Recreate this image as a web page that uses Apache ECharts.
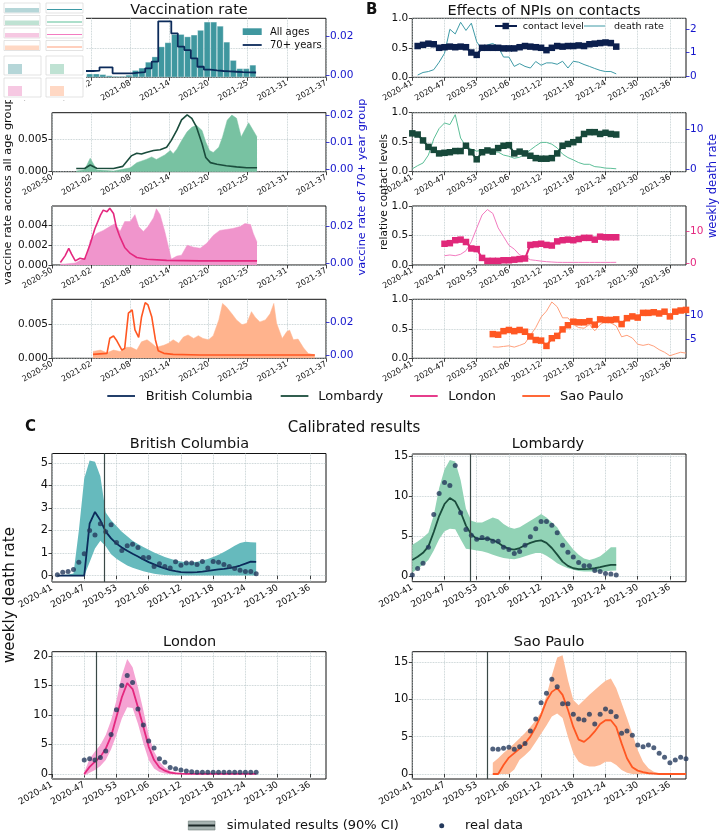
<!DOCTYPE html>
<html>
<head>
<meta charset="utf-8">
<script src="https://cdn.jsdelivr.net/npm/echarts@6/dist/echarts.min.js"></script>
<style>
html, body { margin: 0; padding: 0; background: #fff; }
#chart { width: 719px; height: 833px; }
</style>
</head>
<body>
<div id="chart"></div>
<script>
// tick labels
var weekTicks = [0, 6, 12, 18, 24, 30, 36, 42, 48];
var weekLabels = ['2020-41', '2020-47', '2020-53', '2021-06', '2021-12', '2021-18', '2021-24', '2021-30', '2021-36'];
var dayTicks = [0, 42, 84, 126, 168, 210, 252, 294];
var dayLabels = ['2020-50', '2021-02', '2021-08', '2021-14', '2021-20', '2021-25', '2021-31', '2021-37'];

var regions = ['British Columbia', 'Lombardy', 'London', 'Sao Paulo'];

// A: vaccination rate (day index, 0 = 2020-50)
var bcVacBins = [30, 37, 44, 51, 58, 65, 72, 79, 86, 93, 100, 107, 114, 121, 128, 135, 142, 149, 156, 163, 170, 177, 184, 191, 198, 205, 212];
var bcVacAll = [0.0004, 0.0006, 0.0006, 0.0005, 0.0003, 0.0002, 0.0002, 0.0004, 0.0012, 0.0016, 0.0026, 0.0035, 0.0052, 0.0059, 0.0073, 0.0073, 0.0069, 0.0072, 0.0080, 0.0094, 0.0094, 0.0087, 0.0060, 0.0029, 0.0015, 0.0015, 0.0021];
var bcVac70 = [0.0021, 0.0021, 0.0023, 0.0040, 0.0040, 0.0009, 0.0008, 0.0009, 0.0012, 0.0015, 0.0035, 0.0070, 0.0280, 0.0280, 0.0217, 0.0148, 0.0130, 0.0087, 0.0043, 0.0028, 0.0024, 0.0021, 0.0019, 0.0017, 0.0015, 0.0014, 0.0013];

var lomAllDays = [26, 35, 41, 48, 66, 84, 91, 101, 107, 112, 121, 127, 130, 134, 139, 145, 150, 155, 161, 165, 169, 173, 179, 183, 188, 193, 198, 203, 205, 211, 220];
var lomAll = [0.0001, 0.0003, 0.0021, 0.0003, 0.0001, 0.0006, 0.0014, 0.0019, 0.0023, 0.0019, 0.0026, 0.0033, 0.0028, 0.0035, 0.0048, 0.0062, 0.0069, 0.0072, 0.0064, 0.0046, 0.0033, 0.0030, 0.0038, 0.0054, 0.0080, 0.0088, 0.0083, 0.0054, 0.0051, 0.0076, 0.0054];
var lom70Days = [26, 35, 41, 48, 66, 76, 85, 91, 96, 101, 109, 116, 123, 128, 134, 139, 145, 150, 155, 161, 165, 170, 177, 187, 198, 209, 220];
var lom70 = [0.0003, 0.0003, 0.0016, 0.0004, 0.0003, 0.0011, 0.0050, 0.0060, 0.0057, 0.0063, 0.0070, 0.0073, 0.0082, 0.0108, 0.0146, 0.0184, 0.0203, 0.0190, 0.0158, 0.0095, 0.0044, 0.0025, 0.0019, 0.0013, 0.0009, 0.0006, 0.0006];

var lonAllDays = [9, 14, 25, 37, 41, 48, 55, 62, 68, 73, 78, 84, 89, 93, 98, 103, 109, 112, 116, 121, 125, 128, 134, 139, 145, 152, 159, 166, 173, 180, 187, 194, 202, 207, 213, 216, 220];
var lonAll = [0.0001, 0.0001, 0.0002, 0.0008, 0.0025, 0.0032, 0.0035, 0.0039, 0.0042, 0.0034, 0.0044, 0.0044, 0.0051, 0.0039, 0.0034, 0.0039, 0.0048, 0.0057, 0.0051, 0.0034, 0.0018, 0.0006, 0.0009, 0.0010, 0.0020, 0.0018, 0.0017, 0.0022, 0.0030, 0.0035, 0.0036, 0.0037, 0.0039, 0.0042, 0.0041, 0.0032, 0.0023];
var lon70Days = [9, 14, 18, 21, 25, 30, 35, 41, 46, 52, 55, 59, 62, 66, 69, 73, 78, 84, 91, 102, 123, 159, 220];
var lon70 = [0.0004, 0.0040, 0.0080, 0.0049, 0.0013, 0.0027, 0.0022, 0.0104, 0.0185, 0.0258, 0.0285, 0.0276, 0.0295, 0.0267, 0.0195, 0.0140, 0.0085, 0.0053, 0.0031, 0.0022, 0.0016, 0.0013, 0.0013];

var spAllDays = [44, 52, 59, 66, 73, 80, 85, 91, 96, 102, 107, 112, 120, 125, 130, 136, 141, 146, 152, 157, 162, 168, 173, 179, 183, 187, 193, 198, 204, 209, 214, 218, 223, 229, 234, 238, 241, 247, 252, 255, 259, 264, 270, 275, 282];
var spAll = [0.0010, 0.0012, 0.0008, 0.0012, 0.0010, 0.0016, 0.0016, 0.0012, 0.0024, 0.0027, 0.0022, 0.0016, 0.0019, 0.0022, 0.0027, 0.0022, 0.0031, 0.0034, 0.0029, 0.0033, 0.0029, 0.0027, 0.0033, 0.0056, 0.0080, 0.0075, 0.0065, 0.0056, 0.0049, 0.0051, 0.0068, 0.0060, 0.0053, 0.0056, 0.0065, 0.0080, 0.0051, 0.0029, 0.0039, 0.0041, 0.0027, 0.0028, 0.0015, 0.0007, 0.0005];
var sp70Days = [44, 59, 62, 66, 69, 75, 78, 82, 86, 89, 93, 96, 100, 103, 107, 111, 114, 120, 130, 159, 282];
var sp70 = [0.0008, 0.0014, 0.0105, 0.0119, 0.0095, 0.0034, 0.0044, 0.0257, 0.0277, 0.0156, 0.0111, 0.0232, 0.0321, 0.0307, 0.0236, 0.0095, 0.0030, 0.0014, 0.0008, 0.0004, 0.0004];

// B + C: weekly series (week index, 0 = 2020-41), first week per region
var firstWeek = [1, 0, 6, 15];
var vaccStartWeek = [9.73, 10.86, 8.25, 14.0];

var bcContact = [0.53, 0.55, 0.57, 0.56, 0.50, 0.51, 0.52, 0.51, 0.52, 0.51, 0.42, 0.38, 0.50, 0.50, 0.50, 0.50, 0.49, 0.49, 0.49, 0.51, 0.53, 0.52, 0.51, 0.50, 0.46, 0.50, 0.53, 0.52, 0.53, 0.53, 0.54, 0.53, 0.56, 0.57, 0.58, 0.59, 0.58, 0.52];
var lomContact = [0.65, 0.63, 0.53, 0.42, 0.37, 0.31, 0.32, 0.33, 0.35, 0.35, 0.44, 0.33, 0.21, 0.33, 0.36, 0.34, 0.40, 0.44, 0.45, 0.31, 0.34, 0.31, 0.27, 0.23, 0.22, 0.22, 0.23, 0.31, 0.44, 0.47, 0.50, 0.54, 0.64, 0.67, 0.67, 0.64, 0.66, 0.64, 0.63];
var lonContact = [0.36, 0.37, 0.42, 0.43, 0.39, 0.28, 0.27, 0.12, 0.07, 0.07, 0.07, 0.08, 0.08, 0.09, 0.10, 0.11, 0.34, 0.35, 0.36, 0.34, 0.33, 0.40, 0.42, 0.43, 0.42, 0.44, 0.46, 0.46, 0.43, 0.48, 0.47, 0.47, 0.47];
var spContact = [0.41, 0.40, 0.46, 0.48, 0.46, 0.48, 0.45, 0.37, 0.31, 0.30, 0.21, 0.34, 0.38, 0.49, 0.56, 0.62, 0.61, 0.61, 0.63, 0.57, 0.66, 0.65, 0.65, 0.66, 0.58, 0.68, 0.71, 0.69, 0.77, 0.77, 0.78, 0.76, 0.79, 0.71, 0.79, 0.81, 0.82];

// real weekly death rate
var bcDeath = [0.04, 0.15, 0.19, 0.27, 0.59, 0.97, 2.0, 1.8, 2.3, 1.95, 2.26, 1.47, 1.12, 1.33, 1.39, 1.25, 0.81, 0.81, 0.41, 0.53, 0.41, 0.34, 0.62, 0.46, 0.56, 0.56, 0.50, 0.63, 0.34, 0.63, 0.59, 0.49, 0.41, 0.32, 0.24, 0.19, 0.19, 0.09];
var lomDeath = [0.13, 0.93, 1.6, 3.6, 7.7, 10.3, 11.7, 11.3, 13.8, 7.9, 5.8, 5.1, 4.6, 4.8, 4.66, 4.36, 4.36, 3.6, 3.3, 2.8, 3.05, 3.85, 4.9, 5.9, 6.8, 6.8, 6.35, 5.4, 3.85, 2.97, 2.37, 1.7, 1.27, 1.27, 0.68, 0.55, 0.3, 0.25, 0.13];
var lonDeath = [2.36, 2.58, 2.36, 2.8, 3.9, 6.7, 10.9, 15.0, 16.7, 15.5, 11.0, 8.3, 5.6, 4.4, 2.6, 2.0, 1.1, 0.9, 0.67, 0.5, 0.4, 0.3, 0.28, 0.28, 0.28, 0.28, 0.28, 0.28, 0.28, 0.28, 0.28, 0.28, 0.3];
var spDeath = [3.35, 3.3, 3.44, 3.57, 3.3, 3.66, 4.1, 5.76, 7.37, 9.55, 10.8, 12.7, 11.7, 9.4, 9.4, 8.0, 7.37, 7.23, 8.0, 6.7, 8.0, 8.7, 8.35, 7.7, 5.45, 5.76, 5.2, 3.9, 3.66, 3.9, 3.5, 2.77, 2.23, 1.5, 1.88, 2.23, 2.05];

// simulated results: median, lower and upper 90% CI
var bcSim = [0, 0, 0, 0, 0, 0, 2.3, 2.82, 2.45, 1.95, 1.65, 1.42, 1.25, 1.1, 0.97, 0.85, 0.72, 0.6, 0.5, 0.4, 0.32, 0.25, 0.2, 0.16, 0.15, 0.15, 0.16, 0.18, 0.21, 0.25, 0.28, 0.3, 0.33, 0.38, 0.45, 0.53, 0.62, 0.61];
var bcLow = [0, 0, 0, 0, 0, 0, 0.6, 1.2, 1.55, 1.3, 0.95, 0.75, 0.6, 0.45, 0.35, 0.27, 0.2, 0.14, 0.09, 0.05, 0.03, 0.02, 0.01, 0.01, 0.01, 0.01, 0.01, 0.01, 0.01, 0.01, 0.01, 0.01, 0.01, 0.01, 0.01, 0.01, 0.01, 0.01];
var bcHigh = [0.02, 0.03, 0.05, 0.1, 2.0, 4.3, 5.1, 5.05, 4.4, 2.8, 2.45, 2.2, 1.95, 1.75, 1.55, 1.4, 1.27, 1.15, 1.03, 0.93, 0.83, 0.75, 0.68, 0.63, 0.6, 0.6, 0.62, 0.67, 0.74, 0.83, 0.93, 1.05, 1.18, 1.33, 1.45, 1.5, 1.48, 1.47];

var lomSim = [2.0, 2.4, 2.9, 3.7, 5.5, 7.5, 9.0, 9.75, 9.3, 8.0, 6.3, 5.2, 4.66, 4.6, 4.7, 4.5, 4.15, 3.7, 3.4, 3.3, 3.5, 3.85, 4.15, 4.36, 4.45, 4.15, 3.5, 2.67, 1.8, 1.27, 0.97, 0.85, 0.85, 0.89, 0.97, 1.1, 1.27, 1.4, 1.4];
var lomLow = [0.42, 0.9, 1.4, 2.0, 3.2, 4.6, 5.6, 5.9, 5.85, 4.6, 3.4, 3.3, 3.2, 3.1, 2.9, 2.67, 2.45, 2.25, 2.15, 2.1, 2.25, 2.46, 2.7, 2.88, 2.88, 2.54, 2.1, 1.6, 1.25, 0.97, 0.78, 0.64, 0.58, 0.55, 0.55, 0.55, 0.6, 0.65, 0.68];
var lomHigh = [3.9, 4.3, 4.8, 5.4, 7.6, 11.0, 13.3, 14.5, 14.3, 12.0, 8.4, 6.9, 6.7, 6.7, 7.0, 7.3, 7.1, 6.5, 6.1, 5.9, 6.1, 6.5, 6.9, 7.3, 7.75, 7.3, 6.7, 6.1, 5.0, 4.15, 3.3, 2.67, 2.2, 2.0, 2.2, 2.46, 3.0, 3.6, 3.6];

var lonSim = [0, 1.2, 2.1, 2.9, 4.3, 6.4, 9.7, 13.0, 15.4, 14.4, 11.3, 8.0, 4.6, 2.36, 1.1, 0.56, 0.22, 0.1, 0.05, 0.03, 0.02, 0.02, 0.02, 0.02, 0.02, 0.02, 0.02, 0.02, 0.02, 0.02, 0.02, 0.02, 0.02];
var lonLow = [-0.3, 0.2, 0.67, 1.35, 2.36, 4.2, 6.6, 9.4, 11.3, 11.2, 8.5, 5.2, 2.36, 0.95, 0.34, 0.1, -0.05, -0.05, -0.05, -0.05, -0.05, -0.05, -0.05, -0.05, -0.05, -0.05, -0.05, -0.05, -0.05, -0.05, -0.05, -0.05, -0.05];
var lonHigh = [0.3, 2.6, 3.8, 4.9, 6.6, 9.1, 12.5, 16.7, 19.5, 18.1, 14.7, 10.8, 6.6, 3.8, 2.1, 1.1, 0.56, 0.28, 0.15, 0.15, 0.15, 0.15, 0.15, 0.15, 0.15, 0.15, 0.15, 0.15, 0.15, 0.15, 0.15, 0.15, 0.15];

var spSim = [0, 0, 1.2, 2.2, 2.8, 3.4, 4.1, 5.0, 6.3, 7.9, 9.8, 11.0, 11.5, 10.6, 8.6, 6.3, 4.6, 4.3, 4.9, 5.7, 6.7, 7.2, 7.2, 6.3, 4.1, 2.1, 0.9, 0.45, 0.25, 0.1, 0.05, 0, 0, 0, 0, 0, 0];
var spLow = [0, 0, 0, 0, 0.6, 1.9, 2.5, 3.2, 4.3, 5.4, 6.5, 7.7, 8.1, 7.5, 5.0, 2.77, 1.65, 1.2, 1.0, 1.0, 1.2, 1.65, 1.65, 1.2, 0.54, 0.18, 0, 0, 0, 0, 0, 0, 0, 0, 0, 0, 0];
var spHigh = [1.5, 2.1, 2.8, 3.4, 4.1, 4.8, 5.5, 6.3, 7.2, 8.3, 10.5, 13.2, 15.6, 15.9, 12.6, 9.9, 9.2, 9.9, 10.6, 11.25, 11.9, 12.5, 12.8, 11.5, 9.5, 7.5, 5.4, 3.2, 1.65, 0.76, 0.3, 0.1, 0.05, 0.05, 0.05, 0.05, 0.05];

var contact = [bcContact, lomContact, lonContact, spContact];
var death = [bcDeath, lomDeath, lonDeath, spDeath];
var sim = [bcSim, lomSim, lonSim, spSim];
var simLow = [bcLow, lomLow, lonLow, spLow];
var simHigh = [bcHigh, lomHigh, lonHigh, spHigh];

// styles
var palette = [
    { line: '#0b2a5a', fill: '#3f979f', band: '#66babd', thin: '#3e9aa6', square: '#0b1f4d', right: '#1414cc' },
    { line: '#1a4c3c', fill: '#78c2a2', band: '#92d3b6', thin: '#5dbf98', square: '#17483a', right: '#1414cc' },
    { line: '#e4287f', fill: '#f095cc', band: '#f5a3d3', thin: '#f37bc0', square: '#e0287a', right: '#e4287f' },
    { line: '#ff5722', fill: '#ffb38d', band: '#fdbc9a', thin: '#ffa07c', square: '#ff5722', right: '#1414cc' }
];
var blue = '#1414cc';
var font = 'DejaVu Sans';

var rowTop = [18.3, 112.7, 206, 299.3];
var rowH = 59;
var colLeft = [52, 412.3];
var colW = 274;
var cBox = [[52, 453.5, 274, 128.5], [412.3, 454, 273.7, 127.7], [52, 651.7, 274, 127.3], [412.3, 651.7, 273.7, 127.3]];

var aLeft = [[0, 0.01, [0, 0.005]], [0, 0.00916, [0, 0.005]], [0, 0.00598, [0, 0.002, 0.004]], [0, 0.0086, [0, 0.005]]];
var aRight = [[-0.0012, 0.0296, [0, 0.02]], [-0.00089, 0.0211, [0, 0.01, 0.02]], [-0.0009, 0.0307, [0, 0.02]], [-0.0016, 0.0341, [0, 0.02]]];
var bRight = [[-0.057, 2.47, [0, 1, 2]], [-0.6, 14.3, [0, 10]], [-0.53, 17.8, [0, 10]], [0.97, 13.26, [5, 10]]];
var cRange = [[-0.28, 5.41, [0, 1, 2, 3, 4, 5]], [-0.71, 15.25, [0, 5, 10, 15]], [-0.85, 20.73, [0, 5, 10, 15, 20]], [-0.67, 16.38, [0, 5, 10, 15]]];

var grids = [], xAxes = [], yAxes = [], series = [];

function gridLines() {
    return { show: true, lineStyle: { color: '#b6c4c7', type: 'dotted', width: 0.8 } };
}

function addGrid(left, top, w, h) {
    grids.push({
        left: left, top: top, width: w, height: h, show: true,
        borderColor: '#111', borderWidth: 1, backgroundColor: 'transparent',
        outerBoundsMode: 'none'
    });
    return grids.length - 1;
}

function addX(g, min, max, ticks, labels, fontSize) {
    xAxes.push({
        type: 'value', gridIndex: g, min: min, max: max,
        axisLine: { show: false },
        axisTick: { show: true, length: 3.5, customValues: ticks, lineStyle: { color: '#111', width: 0.8 } },
        axisLabel: {
            customValues: ticks, rotate: 30, fontSize: fontSize, color: '#111', margin: 5, fontFamily: font,
            formatter: function (v) { var i = ticks.indexOf(v); return i < 0 ? '' : labels[i]; }
        },
        splitLine: gridLines()
    });
    return xAxes.length - 1;
}

function addY(g, pos, range, digits, color, fontSize, showGrid) {
    yAxes.push({
        type: 'value', gridIndex: g, position: pos, min: range[0], max: range[1],
        axisLine: { show: false },
        axisTick: { show: true, length: 3.5, customValues: range[2], lineStyle: { color: color, width: 0.8 } },
        axisLabel: {
            customValues: range[2], color: color, fontSize: fontSize, margin: 4, fontFamily: font,
            formatter: function (v) { return v.toFixed(digits); }
        },
        splitLine: showGrid ? gridLines() : { show: false }
    });
    return yAxes.length - 1;
}

function byWeek(start, vals) {
    return vals.map(function (v, i) { return [start + i, v]; });
}
function byDay(days, vals) {
    return days.map(function (d, i) { return [d, vals[i]]; });
}

// 90% CI band drawn as one polygon through the axis scales
function bandSeries(xa, ya, start, low, high, color) {
    var pts = low.map(function (v, k) { return [start + k, v, high[k]]; });
    return {
        type: 'custom', xAxisIndex: xa, yAxisIndex: ya, silent: true, clip: true, z: 1,
        data: pts, encode: { x: 0, y: [1, 2] },
        renderItem: function (params, api) {
            if (params.dataIndex !== 0) return;
            var top = pts.map(function (p) { return api.coord([p[0], p[2]]); });
            var bottom = pts.map(function (p) { return api.coord([p[0], p[1]]); }).reverse();
            return { type: 'polygon', shape: { points: top.concat(bottom) }, style: { fill: color } };
        }
    };
}

// ---- panel A
var vacAll = [null, [lomAllDays, lomAll], [lonAllDays, lonAll], [spAllDays, spAll]];
var vac70 = [null, [lom70Days, lom70], [lon70Days, lon70], [sp70Days, sp70]];
for (var i = 0; i < 4; i++) {
    var g = addGrid(colLeft[0], rowTop[i], colW, rowH);
    var xa = addX(g, 0, 294, dayTicks, dayLabels, 8);
    var yl = addY(g, 'left', aLeft[i], 3, '#111', 10.5, true);
    var yr = addY(g, 'right', aRight[i], 2, blue, 10.5, false);
    var p = palette[i];
    if (i === 0) {
        series.push({
            type: 'bar', xAxisIndex: xa, yAxisIndex: yl, silent: true,
            barWidth: colW / 294 * 7,
            itemStyle: { color: p.fill, borderColor: 'rgba(255,255,255,0.6)', borderWidth: 0.5 },
            data: bcVacBins.map(function (d, k) { return [d + 3.5, bcVacAll[k]]; })
        });
        var stepData = byDay(bcVacBins, bcVac70);
        stepData.push([bcVacBins[bcVacBins.length - 1] + 7, bcVac70[bcVac70.length - 1]]);
        series.push({
            type: 'line', step: 'end', xAxisIndex: xa, yAxisIndex: yr, symbol: 'none', silent: true,
            lineStyle: { color: p.line, width: 1.8 }, data: stepData
        });
    } else {
        series.push({
            type: 'line', xAxisIndex: xa, yAxisIndex: yl, symbol: 'none', silent: true,
            lineStyle: { color: p.fill, width: 0.5 }, areaStyle: { color: p.fill, opacity: 1 },
            data: byDay(vacAll[i][0], vacAll[i][1])
        });
        series.push({
            type: 'line', xAxisIndex: xa, yAxisIndex: yr, symbol: 'none', silent: true,
            lineStyle: { color: p.line, width: 1.6 },
            data: byDay(vac70[i][0], vac70[i][1])
        });
    }
}

// ---- panel B
for (var i = 0; i < 4; i++) {
    var g = addGrid(colLeft[1], rowTop[i], colW - 0.3, rowH);
    var xa = addX(g, 0, 51, weekTicks, weekLabels, 8);
    var yl = addY(g, 'left', [0, 1, [0, 0.5, 1]], 1, '#111', 10.5, true);
    var yr = addY(g, 'right', bRight[i], 0, palette[i].right, 10.5, false);
    var p = palette[i];
    series.push({
        type: 'line', xAxisIndex: xa, yAxisIndex: yr, symbol: 'none', silent: true,
        lineStyle: { color: p.thin, width: 1 }, data: byWeek(firstWeek[i], death[i])
    });
    series.push({
        type: 'line', xAxisIndex: xa, yAxisIndex: yl, symbol: 'rect', symbolSize: 6.5, showAllSymbol: true, silent: true,
        itemStyle: { color: p.square }, lineStyle: { color: p.square, width: 2 },
        data: byWeek(firstWeek[i], contact[i])
    });
}

// ---- panel C
for (var i = 0; i < 4; i++) {
    var b = cBox[i];
    var g = addGrid(b[0], b[1], b[2], b[3]);
    var xa = addX(g, 0, 51, weekTicks, weekLabels, 9);
    var ya = addY(g, 'left', cRange[i], 0, '#111', 11.5, true);
    var p = palette[i];
    var st = firstWeek[i];
    series.push(bandSeries(xa, ya, st, simLow[i], simHigh[i], p.band));
    series.push({
        type: 'line', xAxisIndex: xa, yAxisIndex: ya, symbol: 'none', silent: true, z: 3,
        lineStyle: { color: p.line, width: 1.8 }, data: byWeek(st, sim[i]),
        markLine: {
            silent: true, symbol: ['none', 'none'], label: { show: false },
            lineStyle: { color: '#3a4846', width: 1.2, type: 'solid' },
            data: [{ xAxis: vaccStartWeek[i] }]
        }
    });
    series.push({
        type: 'scatter', xAxisIndex: xa, yAxisIndex: ya, symbolSize: 5, silent: true, z: 4,
        itemStyle: { color: '#24395c' }, data: byWeek(st, death[i])
    });
}

// ---- texts, legends
var graphics = [];
function text(x, y, s, size, opt) {
    opt = opt || {};
    graphics.push({
        type: 'text', x: x, y: y, rotation: opt.rot || 0, z: opt.z || 50, silent: true,
        style: {
            text: s, fontSize: size, fontFamily: font, fill: opt.color || '#111',
            fontWeight: opt.bold ? 'bold' : 'normal',
            textAlign: opt.align || 'left', textVerticalAlign: 'middle',
            align: opt.align || 'left', verticalAlign: 'middle'
        }
    });
}
function hline(x1, x2, y, color, w) {
    graphics.push({ type: 'line', silent: true, z: 50, shape: { x1: x1, y1: y, x2: x2, y2: y }, style: { stroke: color, lineWidth: w } });
}
function box(x, y, w, h, fill, stroke, z) {
    graphics.push({ type: 'rect', silent: true, z: z || 50, shape: { x: x, y: y, width: w, height: h }, style: { fill: fill, stroke: stroke || null, lineWidth: stroke ? 0.6 : 0 } });
}

text(189, 10.5, 'Vaccination rate', 14.5, { align: 'center' });
text(366, 10.5, 'B', 15, { bold: true });
text(544, 11, 'Effects of NPIs on contacts', 14.5, { align: 'center' });
text(25, 427, 'C', 15, { bold: true });
text(354, 428.5, 'Calibrated results', 15, { align: 'center' });
text(189.5, 444.5, regions[0], 14.5, { align: 'center' });
text(548, 444.5, regions[1], 14.5, { align: 'center' });
text(189.7, 642.5, regions[2], 14.5, { align: 'center' });
text(549, 642.5, regions[3], 14.5, { align: 'center' });

text(8, 191, 'vaccine rate across all age group', 11.3, { align: 'center', rot: Math.PI / 2 });
text(362, 187, 'vaccine rate of 70+ year group', 11.3, { align: 'center', rot: Math.PI / 2, color: blue });
text(384, 192, 'relative contact levels', 10.5, { align: 'center', rot: Math.PI / 2 });
text(713, 186, 'weekly death rate', 11.5, { align: 'center', rot: Math.PI / 2, color: blue });
text(10, 595, 'weekly death rate', 15, { align: 'center', rot: Math.PI / 2 });

// legend inside A1
box(242.7, 28.3, 19, 6.7, palette[0].fill);
text(270, 32, 'All ages', 10);
hline(242.7, 261.7, 45, palette[0].line, 1.8);
text(270, 45.5, '70+ years', 10);

// legend inside B1
hline(495, 517, 26, palette[0].square, 2);
box(502.5, 22.8, 6.4, 6.4, palette[0].square);
text(522.7, 26.5, 'contact level', 9.5);
hline(584, 605, 26, palette[0].thin, 1);
text(614, 26.5, 'death rate', 9.5);

// region legend
var legX = [[107.3, 145.7], [280.7, 318.3], [410, 448.3], [522.3, 560]];
for (var i = 0; i < 4; i++) {
    hline(legX[i][0], legX[i][0] + 27.7, 396, palette[i].line, 1.8);
    text(legX[i][1], 397, regions[i], 13);
}

// bottom legend
box(188.3, 821, 26.7, 9, '#a7b3b1', '#6f7d7b');
hline(188.3, 215, 825.5, '#1c2828', 2);
text(226.7, 826, 'simulated results (90% CI)', 13);
graphics.push({ type: 'circle', silent: true, z: 50, shape: { cx: 441.7, cy: 825.7, r: 2.5 }, style: { fill: '#24395c' } });
text(465, 826, 'real data', 13);

// small preview picture in the corner
box(0, 0, 86, 100, '#fff', null, 100);
var thumbFill = ['#b5d6d8', '#bfe2d3', '#f6c8e2', '#ffd8c4'];
for (var r = 0; r < 4; r++) {
    box(4, 3 + r * 12.5, 36, 10, '#fff', '#d0d0d0', 101);
    box(5, 8 + r * 12.5, 34, 4.5, thumbFill[r], null, 102);
    box(46, 3 + r * 12.5, 37, 10, '#fff', '#d0d0d0', 101);
    box(47, 9 + r * 12.5, 35, 1, palette[r].thin, null, 102);
}
for (var r = 0; r < 2; r++) {
    for (var c = 0; c < 2; c++) {
        box(4 + c * 42, 56 + r * 22, 37, 19, '#fff', '#d0d0d0', 101);
        box(8 + c * 42, 64 + r * 22, 14, 10, thumbFill[r * 2 + c], null, 102);
    }
}

var chart = echarts.init(document.getElementById('chart'), null, { renderer: 'canvas' });
chart.setOption({
    animation: false,
    backgroundColor: '#fff',
    textStyle: { fontFamily: font },
    grid: grids,
    xAxis: xAxes,
    yAxis: yAxes,
    series: series,
    graphic: { elements: graphics }
});
</script>
</body>
</html>
